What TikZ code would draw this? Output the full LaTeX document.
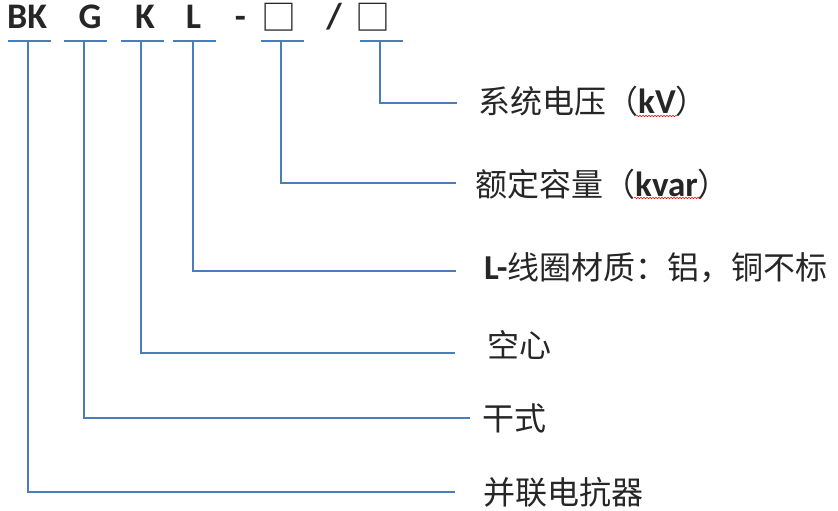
\documentclass[tikz,border=0pt]{standalone}
\usepackage{fontspec}
\setmainfont{Carlito}
\newfontfamily\cjk{Noto Sans CJK SC}
\usetikzlibrary{calc,decorations.pathmorphing}
\definecolor{leadblue}{RGB}{74,126,187}
\definecolor{inkgray}{RGB}{38,38,38}

\begin{document}
\begin{tikzpicture}[
    x=1pt,y=-1pt,
    code/.style={font=\fontsize{36}{36}\selectfont\bfseries,text=inkgray,inner sep=0pt,anchor=base},
    blank/.style={font=\cjk\fontsize{35}{35}\selectfont,text=inkgray,inner sep=0pt,anchor=base},
    lbl/.style={font=\cjk\fontsize{32}{32}\selectfont,text=inkgray,inner sep=0pt,anchor=base west},
    bar/.style={leadblue,line width=2pt},
    lead/.style={leadblue,line width=2pt},
    spell/.style={red,line width=0.5pt,decorate,decoration={snake,amplitude=0.8pt,segment length=3pt}},
]
\useasboundingbox (0,0) rectangle (838,511);
\newcommand{\lat}[1]{{\rmfamily\bfseries\fontsize{35}{35}\selectfont #1}}

% ---- type code ----
\node[code] (bk) at (27,29) {BK};
\node[code] (g) at (90,29) {G};
\node[code] (k) at (145,29) {K};
\node[code] (l) at (193.5,29) {L};
\node[code] (dash) at (240.5,29) {-};
\node[blank] (v1) at (279,31) {□};
\node[code] (slash) at (334,29) {/};
\node[blank] (v2) at (373,31) {□};

% underlines below each part of the code
\foreach \n/\x in {1/28,2/84,3/141,4/193,5/281,6/380} {
  \coordinate (u\n) at (\x,41);
  \draw[bar] ($(u\n)+(-20,0)$) -- ($(u\n)+(23,0)$);
}

% ---- meanings ----
\node[lbl] (l6) at (478,113) {系统电压（\lat{kV}）};
\node[lbl] (l5) at (475,196) {额定容量（\lat{kvar}）};
\node[lbl] (l4) at (484,279) {\lat{L-}线圈材质：铝，铜不标};
\node[lbl] (l3) at (487,357) {空心};
\node[lbl] (l2) at (482,430) {干式};
\node[lbl] (l1) at (483,504) {并联电抗器};

\coordinate (e6) at (457,103);
\coordinate (e5) at (456,183);
\coordinate (e4) at (456,271);
\coordinate (e3) at (455,353);
\coordinate (e2) at (470,418);
\coordinate (e1) at (455,492);

% leaders from the code down to each meaning
\foreach \n in {1,...,6}
  \draw[lead] (u\n) |- (e\n);

% spell-check marks
\draw[spell] (636,116) -- (677,116);
\draw[spell] (634,198) -- (701,198);

\end{tikzpicture}
\end{document}
